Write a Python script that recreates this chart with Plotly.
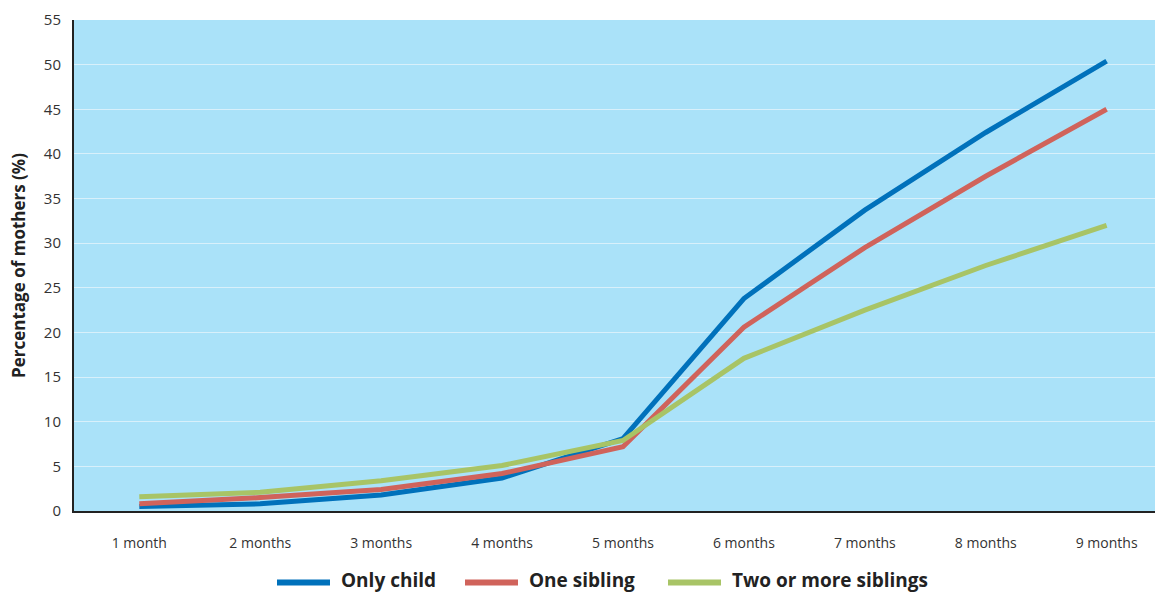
import plotly.graph_objects as go

months = ["1 month", "2 months", "3 months", "4 months", "5 months",
          "6 months", "7 months", "8 months", "9 months"]
only_child = [0.5, 0.8, 1.8, 3.7, 8.1, 23.8, 33.7, 42.4, 50.4]
one_sibling = [0.8, 1.5, 2.4, 4.2, 7.2, 20.6, 29.5, 37.5, 45.0]
two_plus = [1.6, 2.1, 3.4, 5.1, 7.9, 17.1, 22.5, 27.5, 32.0]

series = [
    ("Only child", only_child, "#0071bb"),
    ("One sibling", one_sibling, "#d0635b"),
    ("Two or more siblings", two_plus, "#a8c466"),
]

W, H = 1155, 594
ML, MR, MT, MB = 74, 0, 20, 83
PW, PH = W - ML - MR, H - MT - MB

def px_to_paper_x(px):
    return (px - ML) / PW

def px_to_paper_y(py):
    return (H - MB - py) / PH

x = list(range(len(months)))
fig = go.Figure()
for name, vals, color in series:
    fig.add_trace(go.Scatter(
        x=x, y=vals, name=name, mode="lines",
        line=dict(color=color, width=5),
        showlegend=False,
    ))

font_family = "Open Sans, Noto Sans, sans-serif"

# Legend drawn below the plot: a long swatch followed by bold label
legend_starts = [277, 465, 668]
swatch_len = 53
line_y = px_to_paper_y(582.5)
text_y = px_to_paper_y(580)
for (name, _, color), x0 in zip(series, legend_starts):
    fig.add_shape(
        type="line", xref="paper", yref="paper",
        x0=px_to_paper_x(x0), x1=px_to_paper_x(x0 + swatch_len),
        y0=line_y, y1=line_y,
        line=dict(color=color, width=6),
    )
    fig.add_annotation(
        text=f"<b>{name}</b>", xref="paper", yref="paper",
        x=px_to_paper_x(x0 + swatch_len + 9), y=text_y,
        xanchor="left", yanchor="middle", showarrow=False,
        font=dict(size=19, color="#222222", family=font_family),
    )

fig.update_layout(
    width=W, height=H,
    margin=dict(l=ML, r=MR, t=MT, b=MB),
    paper_bgcolor="white",
    plot_bgcolor="#aae2f9",
    font=dict(family=font_family, size=14, color="#333333"),
    showlegend=False,
    xaxis=dict(
        range=[-0.54, 8.4],
        tickmode="array", tickvals=x, ticktext=months,
        showgrid=False, zeroline=False,
        showline=True, linecolor="#222222", linewidth=2,
        ticks="", ticklabelstandoff=18,
        tickfont=dict(size=14, color="#333333"),
    ),
    yaxis=dict(
        range=[0, 55], dtick=5,
        showgrid=True, gridcolor="#d8f0fb", gridwidth=1.2,
        zeroline=False,
        showline=True, linecolor="#222222", linewidth=2,
        ticks="", ticklabelstandoff=8,
        tickfont=dict(size=15, color="#333333"),
        title=dict(text="<b>Percentage of mothers (%)</b>",
                   font=dict(size=17, color="#222222"), standoff=14),
    ),
)

fig.write_html("out.html")
